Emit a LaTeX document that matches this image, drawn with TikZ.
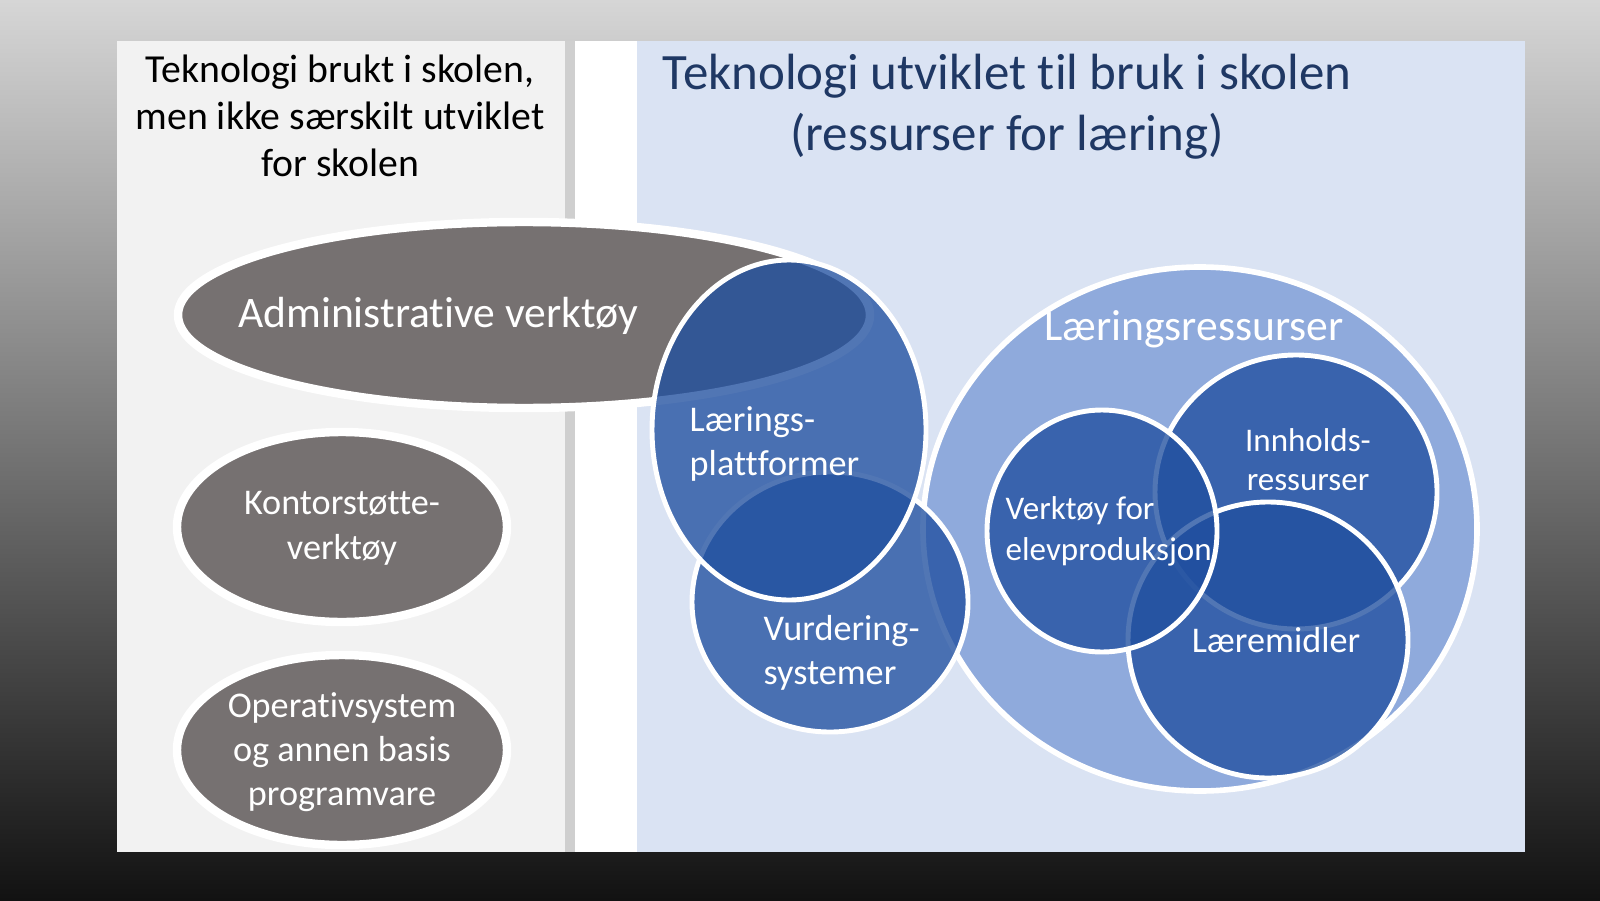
\documentclass[tikz,border=0pt]{standalone}
\usepackage{fontspec}
\setmainfont{Carlito}[Ligatures=NoCommon]
\usepackage{xcolor}
\usepackage{tikz}
\usetikzlibrary{positioning}

\definecolor{bgtop}{HTML}{D6D6D6}
\definecolor{bgmid}{HTML}{747474}
\definecolor{bgbot}{HTML}{121212}
\definecolor{panelgray}{HTML}{F2F2F2}
\definecolor{panelblue}{HTML}{DAE3F3}
\definecolor{barshade}{HTML}{CFCFCF}
\definecolor{toolgray}{HTML}{767171}
\definecolor{ressblue}{HTML}{8FAADC}
\definecolor{circblue}{RGB}{33,80,160}
\definecolor{titleblue}{HTML}{1F3864}

\tikzset{
    grayblob/.style={fill=toolgray, draw=white, line width=2.4pt},
    blueblob/.style={fill=circblue, fill opacity=0.78, draw=white, draw opacity=1, line width=1.4pt},
    ressblob/.style={fill=ressblue, draw=white, line width=1.6pt},
    lbl/.style={text=white, align=center, inner sep=0pt},
}

\begin{document}
\begin{tikzpicture}
    % backdrop and slide panels
    \shade [top color=bgtop, middle color=bgmid, bottom color=bgbot] (0,0) rectangle (16,9);
    \fill [panelgray] (1.17,0.48) rectangle (5.65,8.59);
    \fill [barshade] (5.65,0.48) rectangle (5.75,8.59);
    \fill [white] (5.75,0.48) rectangle (6.37,8.59);
    \fill [panelblue] (6.37,0.48) rectangle (15.25,8.59);

    % learning resources
    \path [ressblob] (12.00,3.71) ellipse [x radius=2.77, y radius=2.62];
    \path [blueblob] (12.96,4.08) ellipse [x radius=1.41, y radius=1.37];
    \path [blueblob] (12.68,2.60) ellipse [x radius=1.40, y radius=1.38];
    \path [blueblob] (11.02,3.69) ellipse [x radius=1.15, y radius=1.21];

    % general tools
    \path [grayblob] (5.24,5.85) ellipse [x radius=3.46, y radius=0.93];
    \path [grayblob] (3.42,3.73) ellipse [x radius=1.65, y radius=0.95];
    \path [grayblob] (3.42,1.50) ellipse [x radius=1.65, y radius=0.95];

    % platforms and assessment
    \path [blueblob] (8.30,2.98) ellipse [x radius=1.38, y radius=1.30];
    \path [blueblob] (7.89,4.70) ellipse [x radius=1.37, y radius=1.70];

    \node [align=center, inner sep=0pt, font=\fontsize{11.3}{13.4}\selectfont] (lefttitle) at (3.40,7.84)
        {Teknologi brukt i skolen,\\men ikke særskilt utviklet\\for skolen};
    \node [align=center, inner sep=0pt, text=titleblue, font=\fontsize{14.5}{17.4}\selectfont] (righttitle) at (10.07,7.93)
        {Teknologi utviklet til bruk i skolen\\(ressurser for læring)};

    \node [lbl, font=\fontsize{12.4}{15}\selectfont] (admintxt) at (4.38,5.84) {Administrative verktøy};
    \node [lbl, font=\fontsize{10.3}{12.8}\selectfont] (kontortxt) at (3.42,3.72) {Kontorstøtte-\\verktøy};
    \node [lbl, font=\fontsize{10.3}{12.5}\selectfont] (opertxt) at (3.42,1.48) {Operativsystem\\og annen basis\\programvare};

    \node [lbl, align=left, anchor=west, font=\fontsize{10.3}{12.5}\selectfont] (plattformtxt) at (6.89,4.56) {Lærings-\\plattformer};
    \node [lbl, align=left, anchor=west, font=\fontsize{10.3}{12.5}\selectfont] (vurdtxt) at (7.63,2.47) {Vurdering-\\systemer};

    \node [lbl, font=\fontsize{12.4}{15}\selectfont] (resstxt) at (11.94,5.71) {Læringsressurser};
    \node [lbl, font=\fontsize{9.4}{11.1}\selectfont] (innholdtxt) at (13.08,4.40) {Innholds-\\ressurser};
    \node [lbl, align=left, anchor=west, font=\fontsize{9.4}{11.6}\selectfont] (verktoytxt) at (10.05,3.69) {Verktøy for\\elevproduksjon};
    \node [lbl, font=\fontsize{10.3}{12.5}\selectfont] (laeremtxt) at (12.76,2.60) {Læremidler};
\end{tikzpicture}
\end{document}
